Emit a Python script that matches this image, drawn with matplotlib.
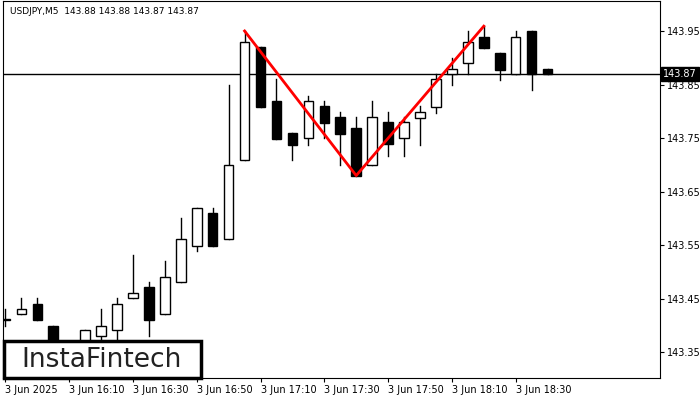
import matplotlib.pyplot as plt
from matplotlib.patches import Rectangle

# OHLC (USDJPY M5, 3 Jun 2025 from 15:50)
opens = [143.410, 143.421, 143.440, 143.400, 143.367, 143.363, 143.380, 143.391,
         143.451, 143.471, 143.421, 143.481, 143.548, 143.611, 143.561, 143.710,
         143.920, 143.820, 143.760, 143.751, 143.810, 143.790, 143.769, 143.700,
         143.780, 143.751, 143.788, 143.808, 143.870, 143.890, 143.939, 143.909,
         143.870, 143.950, 143.879]
closes = [143.410, 143.430, 143.410, 143.372, 143.363, 143.391, 143.400, 143.440,
          143.460, 143.410, 143.490, 143.561, 143.620, 143.548, 143.700, 143.930,
          143.808, 143.749, 143.738, 143.820, 143.779, 143.758, 143.680, 143.790,
          143.739, 143.780, 143.799, 143.861, 143.879, 143.930, 143.918, 143.877,
          143.939, 143.870, 143.870]
highs = [143.430, 143.451, 143.451, 143.400, 143.372, 143.391, 143.430, 143.451,
         143.531, 143.481, 143.520, 143.600, 143.620, 143.620, 143.849, 143.950,
         143.920, 143.861, 143.760, 143.829, 143.820, 143.799, 143.790, 143.820,
         143.799, 143.790, 143.810, 143.870, 143.900, 143.950, 143.959, 143.909,
         143.950, 143.950, 143.879]
lows = [143.400, 143.421, 143.410, 143.372, 143.358, 143.363, 143.372, 143.363,
        143.451, 143.380, 143.421, 143.481, 143.540, 143.548, 143.561, 143.710,
        143.808, 143.749, 143.710, 143.738, 143.751, 143.700, 143.680, 143.700,
        143.717, 143.717, 143.738, 143.797, 143.849, 143.870, 143.918, 143.859,
        143.870, 143.840, 143.870]
tick_labels = ["3 Jun 2025", "3 Jun 16:10", "3 Jun 16:30", "3 Jun 16:50", "3 Jun 17:10",
               "3 Jun 17:30", "3 Jun 17:50", "3 Jun 18:10", "3 Jun 18:30"]
pattern_x = [15, 22, 30]
pattern_y = [143.950, 143.680, 143.959]
last_price = 143.87
y_ticks = [143.35, 143.45, 143.55, 143.65, 143.75, 143.85, 143.95]

fig = plt.figure(figsize=(7, 4), dpi=100)
ax = fig.add_axes([3/700, 22/400, 657/700, 377/400])
ax.set_xlim(-0.15, 41.05)
ax.set_ylim(143.302, 144.006)

w = 0.6
for i in range(len(opens)):
    o, c, h, l = opens[i], closes[i], highs[i], lows[i]
    ax.plot([i, i], [l, h], color='black', lw=1, zorder=2)
    bottom = min(o, c)
    height = max(abs(c - o), 0.002)
    face = 'white' if c >= o else 'black'
    ax.add_patch(Rectangle((i - w/2, bottom), w, height, facecolor=face,
                           edgecolor='black', lw=1, zorder=3))

ax.axhline(last_price, color='black', lw=1, zorder=1)
ax.plot(pattern_x, pattern_y, color='red', lw=2, zorder=4)

ax.yaxis.tick_right()
ax.set_yticks(y_ticks)
ax.set_yticklabels([f"{v:.2f}" for v in y_ticks], fontsize=7)
ax.set_xticks(range(0, 36, 4))
ax.set_xticklabels(tick_labels, fontsize=7, ha='left')
ax.tick_params(length=3, pad=2)
ax.text(1.005, last_price, f"{last_price:.2f}", transform=ax.get_yaxis_transform(),
        fontsize=7, color='white', va='center', ha='left',
        bbox=dict(facecolor='black', edgecolor='black', pad=1.5))
ax.text(0.01, 0.985, "USDJPY,M5  143.88 143.88 143.87 143.87", transform=ax.transAxes,
        fontsize=6.5, va='top', ha='left')

# logo box
fig.patches.append(Rectangle((4/700, 22/400), 197/700, 37/400, transform=fig.transFigure,
                             facecolor='white', edgecolor='black', lw=2.5, zorder=10))
fig.text(102/700, 1 - 360/400, "InstaFintech", fontsize=19, fontweight='medium',
         va='center', ha='center', color='#222222', zorder=11)

fig.savefig("out.png", dpi=100)
